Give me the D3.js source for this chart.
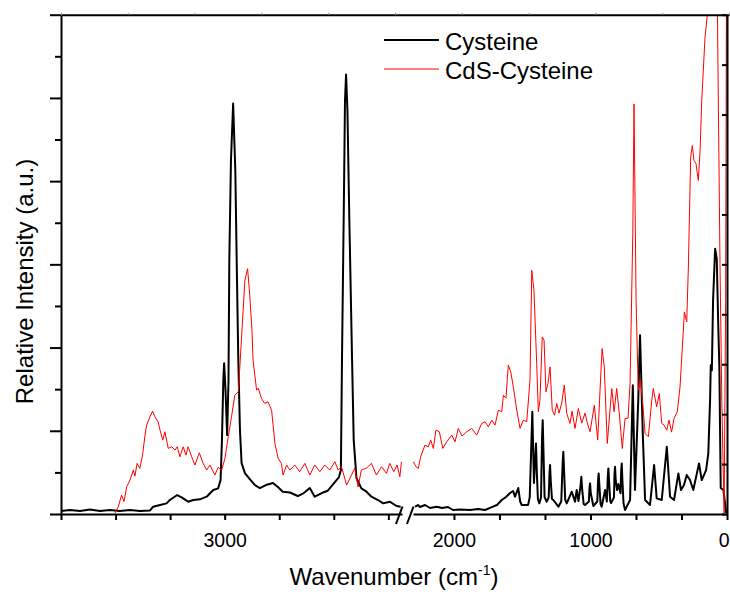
<!DOCTYPE html>
<html>
<head>
<meta charset="utf-8">
<script src="https://cdn.jsdelivr.net/npm/d3@7/dist/d3.min.js"></script>
<style>
  body { margin: 0; background: #fff; }
  svg { display: block; }
  text { font-family: "Liberation Sans", Arial, Helvetica, sans-serif; fill: #000; }
</style>
</head>
<body>
<svg id="chart" width="730" height="596"></svg>
<script>
// Raman spectra of cysteine and cysteine-capped CdS (relative intensity vs. wavenumber)
const seriesNames = ["Cysteine", "CdS-Cysteine"];
const seriesColors = ["#000000", "#ff0000"];

const cysteineWavenumber = [
  3600, 3567, 3530, 3494, 3457, 3421, 3384, 3347, 3311, 3274, 3262, 3237, 3213, 3201, 3174, 3158,
  3134, 3115, 3091, 3066, 3042, 3024, 3015, 3010, 3005, 3002, 2997, 2991, 2986, 2983, 2977, 2969,
  2961, 2956, 2950, 2944, 2938, 2926, 2908, 2889, 2871, 2849, 2823, 2805, 2787, 2761, 2732, 2710,
  2688, 2670, 2644, 2622, 2596, 2581, 2574, 2570, 2563, 2559, 2555, 2550, 2543, 2533, 2527, 2517,
  2499, 2480, 2462, 2438, 2419, 2395, 2370, 2355,
  2285, 2263, 2249, 2212, 2175, 2126, 2088, 2044, 2007, 1956, 1882, 1824, 1772, 1714, 1685, 1650,
  1619, 1589, 1567, 1553, 1529, 1515, 1504, 1457,
  1445, 1432, 1426, 1420, 1414, 1404, 1399, 1393, 1385, 1375, 1362, 1355, 1350, 1345, 1336, 1320,
  1306, 1300, 1296, 1291, 1282, 1272, 1235, 1214, 1204, 1199, 1194, 1185, 1174, 1137, 1113, 1101,
  1088, 1072, 1067, 1061, 1050, 1040, 1012, 1007, 1003, 998, 979, 950, 944, 940, 935, 926,
  918, 893, 880, 873, 869, 864, 855, 849, 828, 824, 820, 815, 805, 796, 780, 775,
  771, 766, 758, 747, 710, 690, 674, 650, 637, 617, 600, 564, 534, 515, 478,
  441, 417, 388, 356, 337, 315, 295, 271, 247, 205, 185, 153, 137, 124, 119, 111,
  102, 87, 75, 65, 56, 46, 26, 6
];
const cysteineIntensity = [
  36, 48, 36, 54, 36, 48, 36, 48, 36, 42, 88, 108, 128, 168, 228, 200,
  148, 168, 176, 208, 288, 308, 408, 888, 1608, 1812, 1488, 948, 1608, 3048, 4248, 4932,
  4128, 3048, 1848, 1008, 612, 492, 420, 348, 312, 348, 372, 324, 268, 258, 216, 252,
  312, 208, 252, 280, 384, 444, 528, 1848, 3768, 4968, 5280, 4848, 3528, 1848, 888, 432,
  308, 268, 208, 168, 128, 148, 96, 88,
  88, 108, 84, 108, 72, 88, 72, 84, 48, 54, 48, 60, 48, 88, 108, 168,
  204, 252, 276, 208, 312, 150, 108, 108,
  200, 900, 1228, 800, 372, 700, 848, 500, 180, 128, 200, 900, 1128, 800, 200, 148,
  200, 500, 588, 400, 180, 168, 88, 150, 600, 748, 550, 170, 128, 268, 148, 288,
  156, 350, 448, 300, 120, 108, 150, 320, 368, 250, 96, 150, 420, 488, 350, 120,
  88, 288, 150, 450, 548, 400, 150, 132, 200, 480, 568, 400, 288, 360, 250, 520,
  608, 400, 130, 48, 168, 1548, 288, 1368, 2148, 972, 168, 108, 588, 188, 168,
  808, 208, 168, 488, 288, 348, 468, 408, 288, 608, 408, 528, 728, 1368, 1788, 1728,
  2568, 3188, 3072, 2328, 1768, 312, 288, 12
];

const cdsWavenumber = [
  3402, 3390, 3378, 3369, 3359, 3347, 3335, 3329, 3321, 3311, 3301, 3292, 3286, 3274, 3264, 3256,
  3244, 3237, 3227, 3219, 3207, 3194, 3182, 3174, 3164, 3152, 3142, 3134, 3121, 3109, 3093, 3079,
  3066, 3054, 3036, 3024, 3011, 2999, 2987, 2975, 2963, 2950, 2938, 2926, 2916, 2908, 2900, 2896,
  2883, 2877, 2865, 2853, 2841, 2828, 2816, 2804, 2792, 2786, 2773, 2761, 2743, 2725, 2706, 2688,
  2670, 2651, 2633, 2615, 2596, 2584, 2572, 2553, 2535, 2523, 2511, 2499, 2480, 2462, 2444, 2425,
  2407, 2395, 2380, 2368, 2358, 2352,
  2298, 2278, 2261, 2244, 2212, 2188, 2170, 2151, 2132, 2107, 2082, 2053, 2016, 1992, 1968, 1941,
  1907, 1870, 1833, 1797, 1772, 1748, 1723, 1699, 1675, 1650, 1638, 1619, 1602, 1584, 1565, 1540,
  1516, 1492, 1467, 1443, 1430, 1414, 1394, 1382, 1370, 1353, 1340, 1326, 1311, 1296, 1280, 1263,
  1247, 1230, 1211, 1192, 1174, 1150, 1135, 1113, 1089, 1064, 1040, 1023, 1003, 972, 947, 930,
  915, 899, 877, 844, 827, 808, 789, 767, 747, 725, 710, 690, 681, 666, 650, 633,
  613, 600, 576, 551, 540, 515, 496, 478, 461, 441, 425, 406, 388, 364, 344, 327,
  312, 295, 283, 266, 254, 242, 227, 210, 197, 185, 161, 144, 131, 95, 70, 51,
  38, 21, 10, 3, 0
];
const cdsIntensity = [
  12, 88, 228, 148, 328, 408, 528, 456, 608, 548, 708, 948, 1068, 1168, 1236, 1168,
  1108, 1008, 888, 988, 788, 808, 768, 808, 688, 808, 708, 808, 688, 588, 736, 608,
  528, 588, 468, 560, 528, 668, 928, 1168, 1428, 1468, 2128, 2808, 2948, 2628, 2208, 1848,
  1488, 1512, 1388, 1328, 1348, 1248, 848, 668, 608, 468, 588, 528, 588, 508, 608, 468,
  588, 508, 588, 528, 628, 528, 568, 348, 468, 552, 324, 528, 552, 608, 468, 568,
  488, 608, 508, 588, 448, 628,
  628, 568, 548, 688, 828, 808, 888, 788, 1008, 988, 788, 868, 948, 868, 1028, 936,
  988, 1028, 948, 1088, 1108, 1048, 1128, 1068, 1248, 1228, 1428, 1392, 1788, 1708, 1528, 1248,
  1028, 1128, 1108, 1608, 2928, 2688, 1808, 1228, 1368, 2128, 2088, 1468, 1572, 1768, 1248, 1188,
  1328, 1212, 1332, 1548, 1208, 1088, 1236, 1028, 1268, 1092, 1212, 1092, 988, 1308, 888, 1488,
  1988, 1768, 848, 1508, 1228, 1508, 1212, 788, 1148, 1152, 1568, 3372, 4928, 2568, 1488, 1608,
  1248, 968, 928, 1368, 1508, 1288, 1448, 1088, 1068, 1008, 1128, 984, 1148, 1228, 1528, 2008,
  2428, 2308, 2968, 4288, 4428, 4248, 4208, 4008, 4368, 4968, 5728, 6000, 6800, 6800, 6000, 2968,
  1368, 12, 2568, 6800, 6800
];

// Broken wavenumber axis: high-frequency segment and fingerprint segment
const leftDomain = [3600, 2350];
const rightDomain = [2300, 0];
const bottomTicksLeft = [3600, 3400, 3200, 3000, 2800, 2600, 2400];
const bottomTicksRight = [2000, 5000 / 3, 4000 / 3, 1000, 2000 / 3, 1000 / 3, 0];
const labeledTicks = [3000, 2000, 1000, 0];
const intensityMajorTicks = [0, 1000, 2000, 3000, 4000, 5000, 6000];
const intensityMinorTicks = [500, 1500, 2500, 3500, 4500, 5500];

const xTitle = "Wavenumber (cm";
const xTitleSup = "-1";
const yTitle = "Relative Intensity (a.u.)";

const svg = d3.select("#chart");
const plotLeft = 61, plotRight = 727, plotTop = 14.7, plotBottom = 514;
const breakLeft = 402, breakRight = 413;

const xLeft = d3.scaleLinear().domain(leftDomain).range([plotLeft, breakLeft]);
const xRight = d3.scaleLinear().domain(rightDomain).range([breakRight, plotRight]);
const y = d3.scaleLinear().domain([0, 6000]).range([plotBottom, plotTop]);

const splitAt = 2325;
const xOf = w => (w > splitAt ? xLeft(w) : xRight(w));

const defs = svg.append("defs");
defs.append("clipPath").attr("id", "plotClip")
  .append("rect")
  .attr("x", plotLeft - 1).attr("y", plotTop)
  .attr("width", plotRight - plotLeft + 2).attr("height", plotBottom - plotTop + 2);

function segments(waves, values) {
  const pts = waves.map((w, i) => ({ w, v: values[i] }));
  return [pts.filter(p => p.w > splitAt), pts.filter(p => p.w <= splitAt)];
}

const line = d3.line().x(p => xOf(p.w)).y(p => y(p.v));

const plot = svg.append("g").attr("clip-path", "url(#plotClip)");
const allSeries = [
  { name: seriesNames[0], color: seriesColors[0], width: 2, segs: segments(cysteineWavenumber, cysteineIntensity) },
  { name: seriesNames[1], color: seriesColors[1], width: 1, segs: segments(cdsWavenumber, cdsIntensity) }
];
allSeries.forEach(s => {
  s.segs.forEach(seg => {
    plot.append("path")
      .datum(seg)
      .attr("d", line)
      .attr("fill", "none")
      .attr("stroke", s.color)
      .attr("stroke-width", s.width)
      .attr("stroke-linejoin", "round");
  });
});

// Axes
function styleAxis(g) {
  g.selectAll("path.domain").attr("stroke", "#000").attr("stroke-width", 2);
  g.selectAll(".tick line").attr("stroke", "#000").attr("stroke-width", 2);
  g.selectAll("text").attr("font-size", "19.5px").attr("font-family", "'Liberation Sans', Arial, sans-serif").attr("fill", "#000");
}
const fmt = d => (labeledTicks.some(t => Math.abs(t - d) < 1e-6) ? d3.format("d")(d) : "");

const axisLeftSeg = svg.append("g")
  .attr("transform", `translate(0,${plotBottom})`)
  .call(d3.axisBottom(xLeft).tickValues(bottomTicksLeft).tickSize(6).tickSizeOuter(0).tickPadding(13).tickFormat(fmt));
styleAxis(axisLeftSeg);

const axisRightSeg = svg.append("g")
  .attr("transform", `translate(0,${plotBottom})`)
  .call(d3.axisBottom(xRight).tickValues(bottomTicksRight).tickSize(6).tickSizeOuter(0).tickPadding(13).tickFormat(fmt));
styleAxis(axisRightSeg);
// keep the last label inside the page edge
axisRightSeg.selectAll(".tick text").filter(d => d === 0).attr("text-anchor", "end").attr("x", 2);

const yMajor = svg.append("g")
  .attr("transform", `translate(${plotLeft},0)`)
  .call(d3.axisLeft(y).tickValues(intensityMajorTicks).tickSize(11).tickSizeOuter(0).tickFormat(""));
styleAxis(yMajor);
const yMinor = svg.append("g")
  .attr("transform", `translate(${plotLeft},0)`)
  .call(d3.axisLeft(y).tickValues(intensityMinorTicks).tickSize(6).tickSizeOuter(0).tickFormat(""));
styleAxis(yMinor);
yMinor.select("path.domain").remove();

// Frame: top and right axes with small inward ticks
const frameX = d3.scaleLinear().domain([0, 10]).range([plotLeft, plotRight + 2]);
const frameY = d3.scaleLinear().domain([0, 10]).range([plotBottom, plotTop]);
const topAxis = svg.append("g")
  .attr("transform", `translate(0,${plotTop})`)
  .call(d3.axisTop(frameX).ticks(10).tickSize(2).tickSizeOuter(0).tickFormat(""));
styleAxis(topAxis);
topAxis.selectAll(".tick line").attr("stroke-width", 1).attr("stroke", "#999");
const rightAxis = svg.append("g")
  .attr("transform", `translate(${plotRight},0)`)
  .call(d3.axisRight(frameY).ticks(10).tickSize(-5).tickSizeOuter(0).tickFormat(""));
styleAxis(rightAxis);

// Axis break marks
const breakMarks = [breakLeft - 3, breakRight - 3];
svg.selectAll("line.break")
  .data(breakMarks)
  .join("line")
  .attr("class", "break")
  .attr("x1", d => d - 3).attr("y1", plotBottom + 10)
  .attr("x2", d => d + 3.5).attr("y2", plotBottom - 7.5)
  .attr("stroke", "#000").attr("stroke-width", 2);

// Axis titles
const xt = svg.append("text")
  .attr("x", 394).attr("y", 585)
  .attr("text-anchor", "middle")
  .attr("font-size", "24px");
xt.append("tspan").text(xTitle);
xt.append("tspan").attr("font-size", "14px").attr("dy", -10).text(xTitleSup);
xt.append("tspan").attr("dy", 10).text(")");

svg.append("text")
  .attr("transform", "translate(33,281.5) rotate(-90)")
  .attr("text-anchor", "middle")
  .attr("font-size", "24px")
  .text(yTitle);

// Legend
const legend = svg.append("g");
allSeries.forEach((s, i) => {
  const ly = 40 + i * 29;
  legend.append("line")
    .attr("x1", 384).attr("x2", 439)
    .attr("y1", ly).attr("y2", ly)
    .attr("stroke", s.color).attr("stroke-width", s.width);
  legend.append("text")
    .attr("x", 445).attr("y", ly + 9.5)
    .attr("font-size", "24px")
    .text(s.name);
});
</script>
</body>
</html>
